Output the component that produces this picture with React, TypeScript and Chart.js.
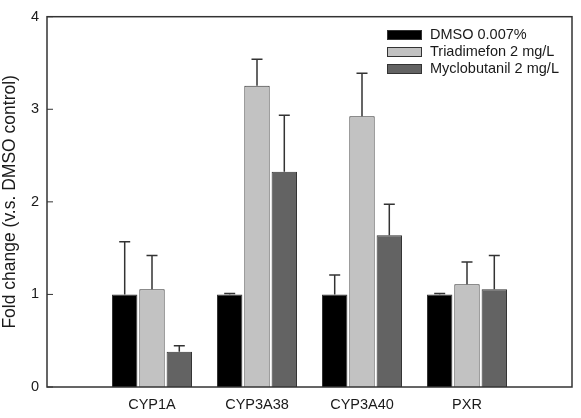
import React, { useEffect, useRef } from "react";
import { Chart, registerables } from "chart.js";

Chart.register(...registerables);

const categories = ["", "CYP1A", "CYP3A38", "CYP3A40", "PXR", ""];
const seriesNames = ["DMSO 0.007%", "Triadimefon 2 mg/L", "Myclobutanil 2 mg/L"];
const dmsoMeans = [null, 1.0, 1.0, 1.0, 1.0, null];
const dmsoErrors = [null, 0.57, 0.01, 0.21, 0.01, null];
const triadimefonMeans = [null, 1.055, 3.255, 2.925, 1.11, null];
const triadimefonErrors = [null, 0.365, 0.285, 0.465, 0.24, null];
const myclobutanilMeans = [null, 0.38, 2.325, 1.64, 1.055, null];
const myclobutanilErrors = [null, 0.065, 0.61, 0.335, 0.365, null];
const yTicks = [0, 1, 2, 3, 4];

const colors = ["#000000", "#c2c2c2", "#636363"];
const errorsBySeries = [dmsoErrors, triadimefonErrors, myclobutanilErrors];

const FONT = "'Liberation Sans', Arial, sans-serif";

const framePlugin = {
  id: "framePlugin",
  afterDatasetsDraw(chart: any) {
    const { ctx, chartArea, scales } = chart;
    const y = scales.y;
    ctx.save();
    // error bars
    ctx.strokeStyle = "#333333";
    ctx.lineWidth = 1.5;
    chart.data.datasets.forEach((ds: any, di: number) => {
      const meta = chart.getDatasetMeta(di);
      const errs = errorsBySeries[di];
      meta.data.forEach((bar: any, i: number) => {
        const v = ds.data[i];
        const e = errs[i];
        if (v == null || e == null) return;
        const x = bar.x;
        const y0 = y.getPixelForValue(v);
        const y1 = y.getPixelForValue(v + e);
        ctx.beginPath();
        ctx.moveTo(x, y0);
        ctx.lineTo(x, y1);
        ctx.moveTo(x - 5.5, y1);
        ctx.lineTo(x + 5.5, y1);
        ctx.stroke();
      });
    });
    // frame
    ctx.strokeStyle = "#333333";
    ctx.lineWidth = 1.5;
    ctx.strokeRect(chartArea.left, chartArea.top, chartArea.right - chartArea.left, chartArea.bottom - chartArea.top);
    // inner ticks on y
    ctx.lineWidth = 1;
    yTicks.forEach((t) => {
      const py = y.getPixelForValue(t);
      ctx.beginPath();
      ctx.moveTo(chartArea.left, py);
      ctx.lineTo(chartArea.left + 6, py);
      ctx.stroke();
    });
    // legend
    const rows = [35, 52, 69];
    ctx.font = "14.5px " + FONT;
    ctx.textBaseline = "middle";
    ctx.textAlign = "left";
    seriesNames.forEach((name, i) => {
      const cy = rows[i];
      ctx.fillStyle = colors[i];
      ctx.fillRect(387.5, cy - 4.5, 34, 9);
      ctx.strokeStyle = "#333333";
      ctx.lineWidth = 1;
      ctx.strokeRect(387.5, cy - 4.5, 34, 9);
      ctx.fillStyle = "#1a1a1a";
      ctx.fillText(name, 430, cy);
    });
    ctx.restore();
  },
};

export default function App() {
  const ref = useRef<HTMLCanvasElement>(null);
  useEffect(() => {
    document.body.style.margin = "0";
    const means = [dmsoMeans, triadimefonMeans, myclobutanilMeans];
    const chart = new Chart(ref.current as HTMLCanvasElement, {
      type: "bar",
      data: {
        labels: categories,
        datasets: seriesNames.map((name, i) => ({
          label: name,
          data: means[i] as any,
          backgroundColor: colors[i],
          borderColor: "#333333",
          borderWidth: 1,
          categoryPercentage: 0.78,
          barPercentage: 0.93,
        })),
      },
      options: {
        animation: false,
        responsive: false,
        maintainAspectRatio: false,
        layout: { padding: { top: 4, right: 5, left: 0, bottom: 0 } },
        plugins: {
          legend: { display: false },
          tooltip: { enabled: false },
        },
        scales: {
          x: {
            offset: false,
            grid: { display: false, drawTicks: false },
            border: { display: false },
            ticks: {
              color: "#1a1a1a",
              font: { family: FONT, size: 14.5 },
              padding: 9,
              maxRotation: 0,
              autoSkip: false,
            },
            afterFit: (s: any) => {
              s.height = 31;
            },
          },
          y: {
            min: 0,
            max: 4,
            grid: { display: false, drawTicks: false },
            border: { display: false },
            afterBuildTicks: (s: any) => {
              s.ticks = yTicks.map((v) => ({ value: v }));
            },
            ticks: {
              color: "#1a1a1a",
              font: { family: FONT, size: 14.5 },
              padding: 8,
            },
            title: {
              display: true,
              text: "Fold change (v.s. DMSO control)",
              color: "#1a1a1a",
              font: { family: FONT, size: 17.5 },
              padding: { top: 0, bottom: 0 },
            },
            afterFit: (s: any) => {
              s.width = 47;
            },
          },
        },
      },
      plugins: [framePlugin],
    });
    return () => chart.destroy();
  }, []);
  return (
    <div style={{ width: 581, height: 418, position: "relative", background: "#fff" }}>
      <canvas ref={ref} width={581} height={418} style={{ display: "block" }} />
    </div>
  );
}
